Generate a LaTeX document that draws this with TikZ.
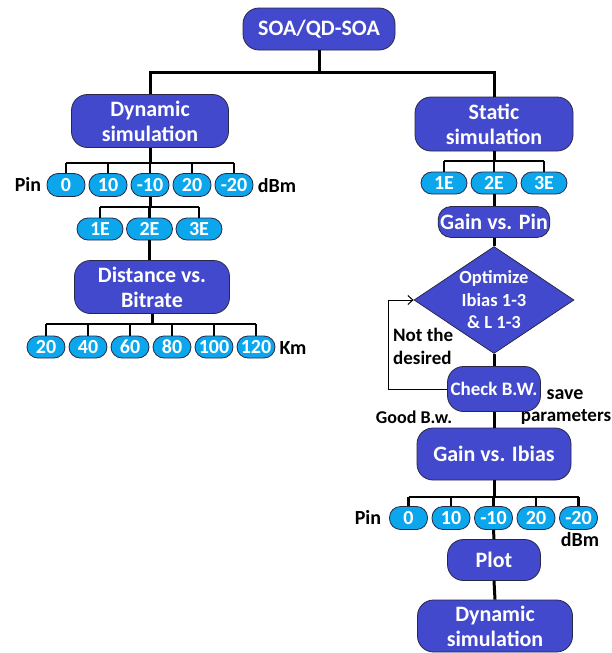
\documentclass[tikz,border=0pt]{standalone}
\usepackage{fontspec}
\setmainfont{Carlito}
\usetikzlibrary{shapes.geometric,arrows.meta}
\definecolor{boxblue}{RGB}{66,73,204}
\definecolor{pillblue}{RGB}{12,166,236}
\definecolor{edgegray}{RGB}{40,40,70}
\tikzset{
  block/.style={draw=edgegray, line width=0.8pt, fill=boxblue, rounded corners=16pt, text=white,
    font=\bfseries\fontsize{22}{25}\selectfont, align=center, inner sep=2pt},
  pill/.style={draw=edgegray, line width=0.8pt, fill=pillblue, rounded corners=11pt, text=white,
    font=\bfseries\fontsize{20}{20}\selectfont, minimum width=38pt, minimum height=23pt, inner sep=0.5pt},
  decide/.style={diamond, aspect=1.5, draw=edgegray, line width=0.8pt, fill=boxblue, text=white,
    font=\bfseries\fontsize{18.5}{22.5}\selectfont, align=center, inner sep=0pt,
    minimum width=160pt, minimum height=107pt},
  lab/.style={font=\bfseries\fontsize{20}{23}\selectfont, text=black, inner sep=0pt},
  trunk/.style={line width=3pt},
  bus/.style={line width=2.2pt}
}
\begin{document}
\begin{tikzpicture}[x=1pt,y=-1pt]
\useasboundingbox (0,0) rectangle (611,653);
\node [block, minimum width=152pt, minimum height=42pt] (soa) at (319,29) {SOA/QD-SOA};
\node [block, minimum width=157pt, minimum height=53pt] (dyn) at (150,121) {Dynamic\\simulation};
\node [block, minimum width=158pt, minimum height=54pt] (sta) at (494,124) {Static\\simulation};
\coordinate (split) at (319,72);
\draw [trunk] (soa.south) -- (split);
\draw [trunk] (dyn.north) |- (split) -| (sta.north);

\foreach \v [count=\i] in {0,10,-10,20,-20}
  \node [pill] (lp\i) at (24+42*\i,185) {\v};
\node [lab] (lpin) at (28,184) {Pin};
\node [lab] (ldbm) at (277,186) {dBm};
\coordinate (lbus) at (150,163);
\draw [trunk] (dyn.south) -- (dyn.south |- lbus);
\draw [bus] (lp1.north |- lbus) -- (lp5.north |- lbus);
\foreach \i in {1,...,5}
  \draw [bus] (lp\i.north) -- (lp\i.north |- lbus);

\foreach \v [count=\i] in {1E,2E,3E}
  \node [pill, minimum width=46pt, minimum height=22pt] (le\i) at (50.5+49.5*\i,229) {\v};
\coordinate (lebus) at (150,207);
\draw [trunk] (lp3.south) -- (lp3.south |- lebus);
\draw [bus] (le1.north |- lebus) -- (le3.north |- lebus);
\foreach \i in {1,...,3}
  \draw [bus] (le\i.north) -- (le\i.north |- lebus);

\node [block, minimum width=155pt, minimum height=53pt] (dist) at (152,287) {Distance vs.\\Bitrate};
\draw [trunk] (le2.south) -- (le2.south |- dist.north);

\foreach \v [count=\i] in {20,40,60,80,100,120}
  \node [pill, minimum height=22pt] (km\i) at (4+42*\i,347) {\v};
\node [lab] (lkm) at (293,348) {Km};
\coordinate (kmbus) at (152,324);
\draw [trunk] (dist.south) -- (dist.south |- kmbus);
\draw [bus] (km1.north |- kmbus) -- (km6.north |- kmbus);
\foreach \i in {1,...,6}
  \draw [bus] (km\i.north) -- (km\i.north |- kmbus);

\foreach \v [count=\i] in {1E,2E,3E}
  \node [pill, minimum width=46pt, minimum height=22pt] (re\i) at (444+50*\i-50,183) {\v};
\coordinate (rebus) at (494,161);
\draw [trunk] (sta.south) -- (sta.south |- rebus);
\draw [bus] (re1.north |- rebus) -- (re3.north |- rebus);
\foreach \i in {1,...,3}
  \draw [bus] (re\i.north) -- (re\i.north |- rebus);

\node [block, minimum width=110pt, minimum height=31pt, rounded corners=13pt] (gpin) at (494,222) {Gain vs. Pin};
\node [decide] (opt) at (494,300) {Optimize\\Ibias 1-3\\\& L 1-3};
\node [block, minimum width=93pt, minimum height=45pt, font=\bfseries\fontsize{19}{22}\selectfont] (chk) at (494,389) {Check B.W.};
\node [block, minimum width=154pt, minimum height=52pt] (gib) at (494,454) {Gain vs. Ibias};
\draw [trunk] (re2.south) -- (gpin.north);
\draw [trunk] (gpin.south) -- (opt.north);
\draw [trunk] (opt.south) -- (chk.north);
\draw [trunk] (chk.south) -- (gib.north);

\coordinate (loop) at (388,300);
\draw [line width=1pt, -{Straight Barb[length=5pt,width=9pt]}] (chk.west) -| (loop) -- (opt.west);
\node [lab, anchor=west, align=left, font=\bfseries\fontsize{19}{23}\selectfont] (notdes) at (393,346.5) {Not the\\desired};
\node [lab] (save) at (565,395) {save};
\node [lab, font=\bfseries\fontsize{19}{23}\selectfont] (param) at (566,417) {parameters};
\node [lab, font=\bfseries\fontsize{18}{20}\selectfont] (good) at (414,417) {Good B.w.};

\foreach \v [count=\i] in {0,10,-10,20,-20}
  \node [pill] (rp\i) at (366+42.5*\i,518) {\v};
\node [lab] (rpin) at (368,517) {Pin};
\node [lab] (rdbm) at (580,540) {dBm};
\coordinate (rbus) at (494,497);
\draw [trunk] (gib.south) -- (gib.south |- rbus);
\draw [bus] (rp1.north |- rbus) -- (rp5.north |- rbus);
\foreach \i in {1,...,5}
  \draw [bus] (rp\i.north) -- (rp\i.north |- rbus);

\node [block, minimum width=93pt, minimum height=41pt] (plot) at (494,560) {Plot};
\node [block, minimum width=155pt, minimum height=52pt] (dyn2) at (495,626) {Dynamic\\simulation};
\draw [trunk] (rp3.south) -- (plot.north);
\draw [trunk] (plot.south) -- (dyn2.north);
\end{tikzpicture}
\end{document}
